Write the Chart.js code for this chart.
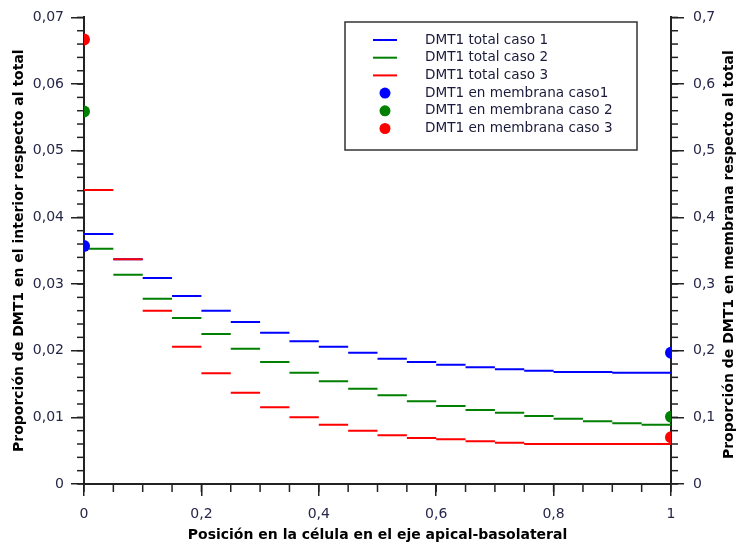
<!DOCTYPE html>
<html>
<head>
<meta charset="utf-8">
<script src="https://cdn.jsdelivr.net/npm/chart.js@4/dist/chart.umd.min.js"></script>
<style>
  html, body { margin: 0; padding: 0; background: #fff; }
  #wrap { width: 738px; height: 545px; }
</style>
</head>
<body>
<div id="wrap"><canvas id="chart" width="738" height="545"></canvas></div>
<script>
// Data (each value = one bin of width 0.05 along the apical-basolateral axis)
const binWidth = 0.05;
const totalCaso1 = [0.0375, 0.0337, 0.0309, 0.0282, 0.0260, 0.0243, 0.0227, 0.0214, 0.0206, 0.0197,
                    0.0188, 0.0183, 0.0179, 0.0175, 0.0172, 0.0170, 0.0168, 0.0168, 0.0167, 0.0167];
const totalCaso2 = [0.0353, 0.0314, 0.0278, 0.0249, 0.0225, 0.0203, 0.0183, 0.0167, 0.0154, 0.0143,
                    0.0133, 0.0124, 0.0117, 0.0111, 0.0107, 0.0102, 0.0098, 0.0094, 0.0091, 0.0089];
const totalCaso3 = [0.0441, 0.0337, 0.0260, 0.0206, 0.0166, 0.0137, 0.0115, 0.0100, 0.0089, 0.0080,
                    0.0073, 0.0069, 0.0067, 0.0064, 0.0062, 0.0060, 0.0060, 0.0060, 0.0060, 0.0060];

// Membrane proportions, right axis, at the two membranes (x = 0 and x = 1)
const membranePos = [0, 1];
const membranaCaso1 = [0.357, 0.197];
const membranaCaso2 = [0.559, 0.101];
const membranaCaso3 = [0.667, 0.070];

const seriesLabels = [
  "DMT1 total caso 1", "DMT1 total caso 2", "DMT1 total caso 3",
  "DMT1 en membrana caso1", "DMT1 en membrana caso 2", "DMT1 en membrana caso 3"
];
const colors = ["#0000ff", "#008000", "#ff0000"];

const xTitle = "Posición en la célula en el eje apical-basolateral";
const yTitle = "Proporción de DMT1 en el interior respecto al total";
const y2Title = "Proporción de DMT1 en membrana respecto al total";

// horizontal segments, one per bin, separated by gaps
function segments(vals) {
  const pts = [];
  vals.forEach((v, i) => {
    pts.push({ x: i * binWidth, y: v });
    pts.push({ x: (i + 1) * binWidth, y: v });
    pts.push({ x: (i + 1) * binWidth, y: null });
  });
  return pts;
}
function points(vals) {
  return vals.map((v, i) => ({ x: membranePos[i], y: v }));
}

const comma = (v, d) => v === 0 ? "0" : (Math.abs(v - 1) < 1e-9 ? "1" : v.toFixed(d).replace(".", ","));

const axisColor = "#222";
const tickFont = { family: "DejaVu Sans", size: 14 };
const tickColor = "#26264a";

// minor tick marks + titles + legend box
const extras = {
  id: "extras",
  afterDraw(chart) {
    const ctx = chart.ctx;
    const area = chart.chartArea;
    const minors = [
      { id: "x", step: 0.05, len: 8 },
      { id: "y", step: 0.002, len: 7 },
      { id: "y2", step: 0.02, len: 7 }
    ];
    ctx.save();
    ctx.strokeStyle = axisColor;
    ctx.lineWidth = 1.5;
    minors.forEach(m => {
      const s = chart.scales[m.id];
      const n = Math.round((s.max - s.min) / m.step);
      for (let i = 0; i <= n; i++) {
        const p = s.getPixelForValue(s.min + i * m.step);
        ctx.beginPath();
        if (m.id === "x") {
          ctx.moveTo(p, area.bottom); ctx.lineTo(p, area.bottom + m.len);
        } else if (m.id === "y") {
          ctx.moveTo(area.left, p); ctx.lineTo(area.left - m.len, p);
        } else {
          ctx.moveTo(area.right, p); ctx.lineTo(area.right + m.len, p);
        }
        ctx.stroke();
      }
    });

    // axis titles
    ctx.fillStyle = "#000";
    ctx.font = "bold 14px 'DejaVu Sans'";
    ctx.textAlign = "center";
    ctx.textBaseline = "middle";
    const cy = (area.top + area.bottom) / 2;
    ctx.fillText(xTitle, (area.left + area.right) / 2, 535);
    ctx.save();
    ctx.translate(19, cy);
    ctx.rotate(-Math.PI / 2);
    ctx.fillText(yTitle, 0, 0);
    ctx.restore();
    ctx.save();
    ctx.translate(729, cy + 4);
    ctx.rotate(-Math.PI / 2);
    ctx.fillText(y2Title, 0, 0);
    ctx.restore();

    // legend
    const box = { left: 345, top: 22, right: 637, bottom: 150 };
    ctx.fillStyle = "#fff";
    ctx.fillRect(box.left, box.top, box.right - box.left, box.bottom - box.top);
    ctx.strokeStyle = "#333";
    ctx.lineWidth = 1.5;
    ctx.strokeRect(box.left, box.top, box.right - box.left, box.bottom - box.top);
    ctx.font = "13.6px 'DejaVu Sans'";
    ctx.textAlign = "left";
    chart.data.datasets.forEach((ds, i) => {
      const yy = 40 + i * 17.7;
      if (ds.showLine === false) {
        ctx.fillStyle = ds.backgroundColor;
        ctx.beginPath();
        ctx.arc(385, yy, 5.5, 0, Math.PI * 2);
        ctx.fill();
      } else {
        ctx.strokeStyle = ds.borderColor;
        ctx.lineWidth = 2;
        ctx.beginPath();
        ctx.moveTo(373, yy); ctx.lineTo(397, yy);
        ctx.stroke();
      }
      ctx.fillStyle = "#1a1a3a";
      ctx.fillText(ds.label, 425, yy);
    });
    ctx.restore();
  }
};

const lineSets = [totalCaso1, totalCaso2, totalCaso3].map((vals, i) => ({
  label: seriesLabels[i],
  data: segments(vals),
  yAxisID: "y",
  borderColor: colors[i],
  backgroundColor: colors[i],
  borderWidth: 2,
  pointRadius: 0,
  spanGaps: false,
  order: 3 - i + 1
}));
const pointSets = [membranaCaso1, membranaCaso2, membranaCaso3].map((vals, i) => ({
  label: seriesLabels[i + 3],
  data: points(vals),
  yAxisID: "y2",
  showLine: false,
  borderColor: colors[i],
  backgroundColor: colors[i],
  pointRadius: 6,
  pointBorderWidth: 0,
  clip: 0,
  order: 0
}));

new Chart(document.getElementById("chart"), {
  type: "line",
  data: { datasets: lineSets.concat(pointSets) },
  options: {
    responsive: false,
    animation: false,
    layout: { padding: { top: 17, left: 0, right: 0, bottom: 0 } },
    plugins: { legend: { display: false }, tooltip: { enabled: false } },
    scales: {
      x: {
        type: "linear", min: 0, max: 1,
        afterFit: s => { s.height = 61; },
        ticks: { stepSize: 0.2, font: tickFont, color: tickColor, padding: 10, maxRotation: 0,
                 callback: v => comma(v, 1) },
        grid: { drawOnChartArea: false, tickLength: 12, color: axisColor, lineWidth: 1.5 },
        border: { color: axisColor, width: 2 }
      },
      y: {
        position: "left", min: 0, max: 0.07,
        afterFit: s => { s.width = 84; },
        ticks: { stepSize: 0.01, font: tickFont, color: tickColor, padding: 7,
                 callback: v => comma(v, 2) },
        grid: { drawOnChartArea: false, tickLength: 13, color: axisColor, lineWidth: 1.5 },
        border: { color: axisColor, width: 2 }
      },
      y2: {
        position: "right", min: 0, max: 0.7,
        afterFit: s => { s.width = 67; },
        ticks: { stepSize: 0.1, font: tickFont, color: tickColor, padding: 9,
                 callback: v => comma(v, 1) },
        grid: { drawOnChartArea: false, tickLength: 13, color: axisColor, lineWidth: 1.5 },
        border: { color: axisColor, width: 2 }
      }
    }
  },
  plugins: [extras]
});
</script>
</body>
</html>
